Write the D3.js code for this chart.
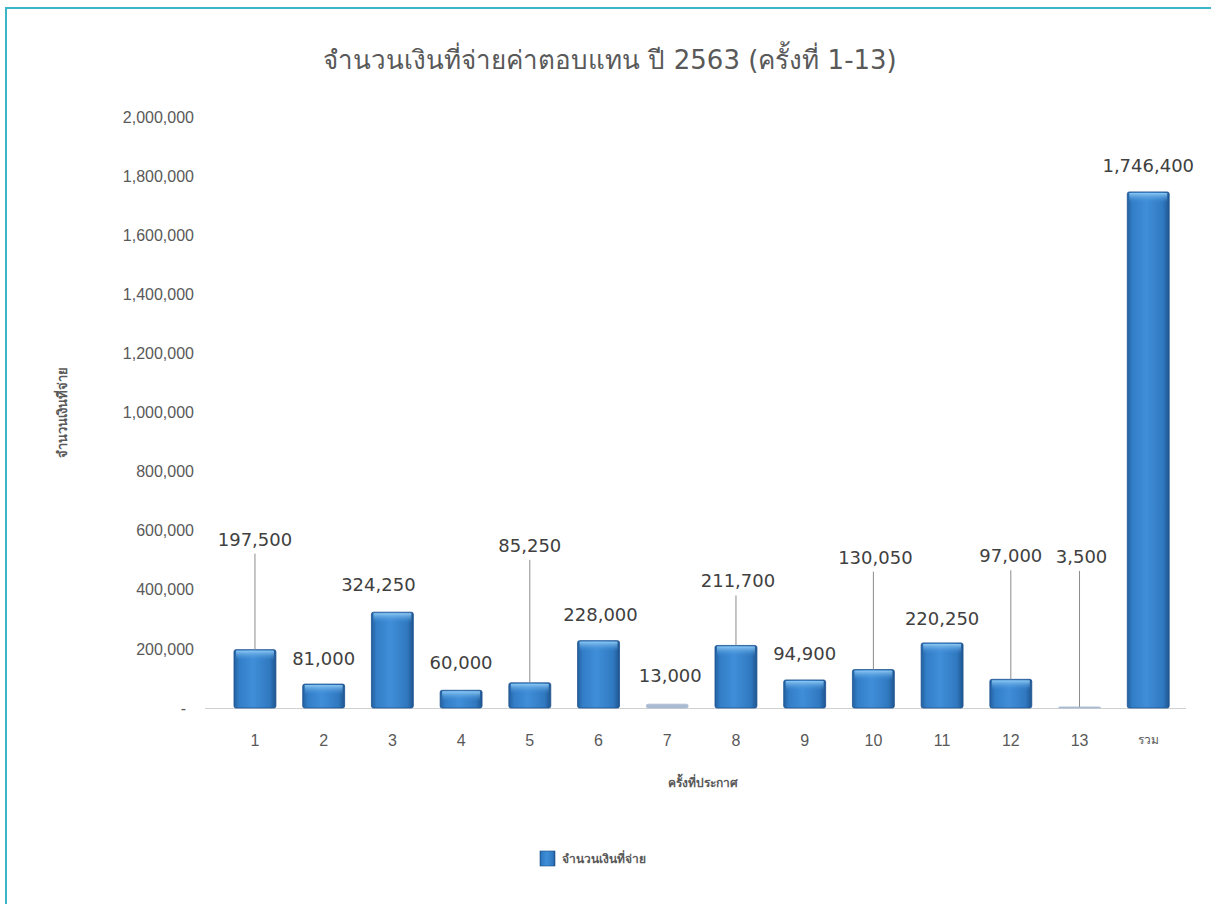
<!DOCTYPE html>
<html>
<head>
<meta charset="utf-8">
<script src="https://cdn.jsdelivr.net/npm/d3@7"></script>
<style>
  html, body { margin: 0; padding: 0; background: #fff; }
  #chart { width: 1211px; height: 904px; }
</style>
</head>
<body>
<div id="chart"></div>
<script>
// values per round (ครั้งที่) plus the total
const categories = ["1", "2", "3", "4", "5", "6", "7", "8", "9", "10", "11", "12", "13", "รวม"];
const amounts = [197500, 81000, 324250, 60000, 85250, 228000, 13000, 211700, 94900, 130050, 220250, 97000, 3500, 1746400];
const yTicks = [0, 200000, 400000, 600000, 800000, 1000000, 1200000, 1400000, 1600000, 1800000, 2000000];

// label placement (pixels above bar top, horizontal nudge)
const labelLift = [111, 26, 28, 28, 138, 27, 29, 65, 27, 113, 25, 124, 151, 27];
const labelDx = [0, 0, -14, 0, 0, 2, 3, 2, 0, 2, 0, 0, 2, 0];

function chart() {
    const width = 1211,
        height = 904;

    const svg = d3.select("#chart").append("svg")
        .attr("width", width)
        .attr("height", height)
        .style("font-family", "Tahoma, 'DejaVu Sans', sans-serif");

    // outer frame
    svg.append("rect")
        .attr("x", 6).attr("y", 8)
        .attr("width", width + 10).attr("height", height + 10)
        .attr("fill", "none")
        .attr("stroke", "#3cb5c6")
        .attr("stroke-width", 2);

    const defs = svg.append("defs");
    const grad = defs.append("linearGradient")
        .attr("id", "barGrad")
        .attr("x1", "0%").attr("x2", "100%").attr("y1", "0%").attr("y2", "0%");
    grad.append("stop").attr("offset", "0%").attr("stop-color", "#22609f");
    grad.append("stop").attr("offset", "12%").attr("stop-color", "#327dc6");
    grad.append("stop").attr("offset", "45%").attr("stop-color", "#408ed9");
    grad.append("stop").attr("offset", "85%").attr("stop-color", "#3079c0");
    grad.append("stop").attr("offset", "100%").attr("stop-color", "#1f5590");

    const topGrad = defs.append("linearGradient")
        .attr("id", "topGrad")
        .attr("x1", "0%").attr("x2", "0%").attr("y1", "0%").attr("y2", "100%");
    topGrad.append("stop").attr("offset", "0%").attr("stop-color", "#8cc8f2");
    topGrad.append("stop").attr("offset", "100%").attr("stop-color", "#3d8ad6").attr("stop-opacity", 0);

    const x = d3.scaleBand()
        .domain(categories)
        .range([220.6, 1182.6])
        .paddingInner(0.39)
        .paddingOuter(0.195);

    const y = d3.scaleLinear()
        .domain([0, 2000000])
        .range([708, 117]);

    // title
    svg.append("text")
        .attr("x", 610)
        .attr("y", 69)
        .attr("text-anchor", "middle")
        .attr("fill", "#595959")
        .style("font-size", "26px")
        .text("จำนวนเงินที่จ่ายค่าตอบแทน ปี 2563 (ครั้งที่ 1-13)");

    // y axis labels
    const yAxis = d3.axisLeft(y)
        .tickValues(yTicks)
        .tickSize(0)
        .tickPadding(0)
        .tickFormat(d => d === 0 ? "-" : d3.format(",")(d));

    svg.append("g")
        .attr("transform", "translate(194,0)")
        .call(yAxis)
        .call(g => g.select(".domain").remove())
        .call(g => g.selectAll("text")
            .attr("fill", "#595959")
            .style("font-size", "16px")
            .attr("dx", d => d === 0 ? "-8" : "0"));

    // baseline
    svg.append("line")
        .attr("x1", 205).attr("x2", 1186)
        .attr("y1", y(0) + 0.5).attr("y2", y(0) + 0.5)
        .attr("stroke", "#d0d0d0");

    // x axis labels
    const xAxis = d3.axisBottom(x).tickSize(0).tickPadding(0);
    svg.append("g")
        .attr("transform", `translate(0,${y(0) + 27})`)
        .call(xAxis)
        .call(g => g.select(".domain").remove())
        .call(g => g.selectAll("text")
            .attr("fill", "#595959")
            .style("font-size", d => d === "รวม" ? "12px" : "16px"));

    const bars = svg.append("g");
    const data = categories.map((c, i) => ({cat: c, value: amounts[i], lift: labelLift[i], dx: labelDx[i]}));

    bars.selectAll("rect.bar").data(data)
        .join("rect")
        .attr("class", "bar")
        .attr("x", d => x(d.cat))
        .attr("y", d => y(d.value))
        .attr("width", x.bandwidth())
        .attr("height", d => y(0) - y(d.value))
        .attr("rx", 2)
        .attr("fill", d => d.value < 20000 ? "#a9bbd3" : "url(#barGrad)")
        .attr("stroke", d => d.value < 20000 ? "#a9bbd3" : "#1d5290")
        .attr("stroke-width", 0.8);

    // top highlight
    bars.selectAll("rect.hl").data(data.filter(d => d.value >= 20000))
        .join("rect")
        .attr("class", "hl")
        .attr("x", d => x(d.cat) + 2)
        .attr("y", d => y(d.value) + 1)
        .attr("width", x.bandwidth() - 4)
        .attr("height", 10)
        .attr("fill", "url(#topGrad)");

    // leader lines for lifted labels
    bars.selectAll("line.leader").data(data.filter(d => d.lift > 40))
        .join("line")
        .attr("class", "leader")
        .attr("x1", d => x(d.cat) + x.bandwidth() / 2)
        .attr("x2", d => x(d.cat) + x.bandwidth() / 2)
        .attr("y1", d => y(d.value) - d.lift + 15)
        .attr("y2", d => y(d.value))
        .attr("stroke", "#8c8c8c")
        .attr("stroke-width", 1);

    bars.selectAll("text.val").data(data)
        .join("text")
        .attr("class", "val")
        .attr("x", d => x(d.cat) + x.bandwidth() / 2 + d.dx)
        .attr("y", d => y(d.value) - d.lift + 7)
        .attr("text-anchor", "middle")
        .attr("fill", "#404040")
        .style("font-size", "18px")
        .text(d => d3.format(",")(d.value));

    // axis titles
    svg.append("text")
        .attr("transform", "translate(67,412) rotate(-90)")
        .attr("text-anchor", "middle")
        .attr("fill", "#595959")
        .style("font-size", "13px")
        .style("font-weight", "bold")
        .text("จำนวนเงินที่จ่าย");

    svg.append("text")
        .attr("x", 703)
        .attr("y", 787)
        .attr("text-anchor", "middle")
        .attr("fill", "#595959")
        .style("font-size", "12px")
        .style("font-weight", "bold")
        .text("ครั้งที่ประกาศ");

    // legend
    const legend = svg.append("g").attr("transform", "translate(540,851)");
    legend.append("rect")
        .attr("width", 15).attr("height", 15)
        .attr("fill", "url(#barGrad)")
        .attr("stroke", "#1d5290")
        .attr("stroke-width", 0.6);
    legend.append("text")
        .attr("x", 22)
        .attr("y", 12)
        .attr("fill", "#595959")
        .style("font-size", "12px")
        .style("font-weight", "bold")
        .text("จำนวนเงินที่จ่าย");
}

window.onload = function() {
    chart();
};
</script>
</body>
</html>
